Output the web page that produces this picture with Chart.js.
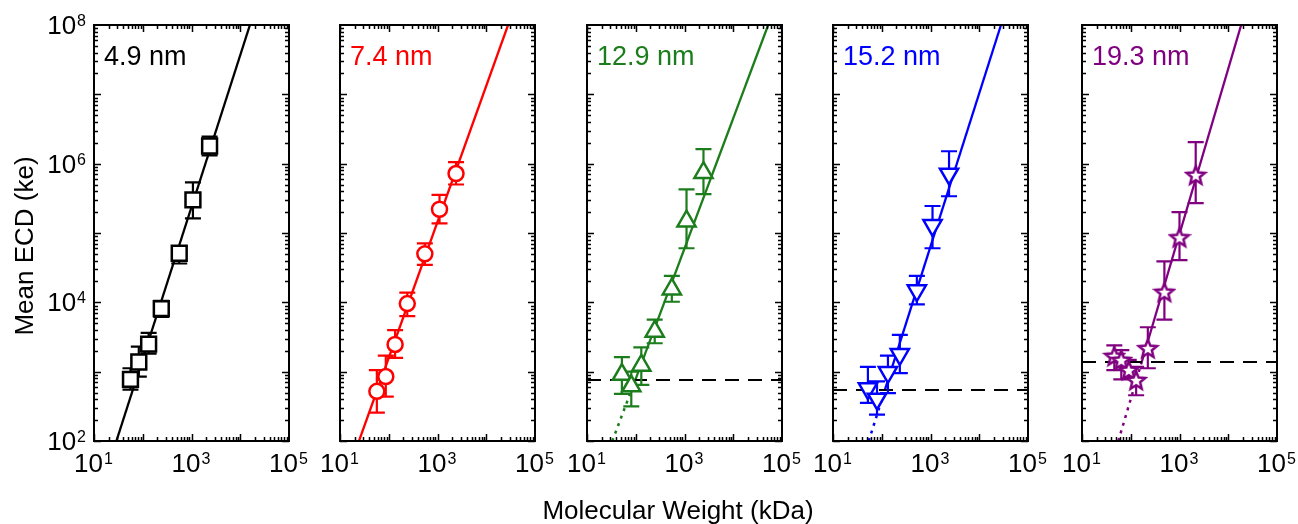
<!DOCTYPE html>
<html>
<head>
<meta charset="utf-8">
<script src="https://cdn.jsdelivr.net/npm/chart.js@4.4.0/dist/chart.umd.min.js"></script>
<style>
  html, body { margin: 0; padding: 0; background: #fff; }
  #wrap { position: relative; width: 1298px; height: 524px; overflow: hidden; }
  #wrap canvas { position: absolute; left: 0; top: 0; }
</style>
</head>
<body>
<div id="wrap"></div>
<script>
// ---- data (molecular weight in kDa, mean ECD in ke) ----
const sizes = ['4.9 nm', '7.4 nm', '12.9 nm', '15.2 nm', '19.3 nm'];
const colors = ['#000000', '#ff0000', '#1b7d1b', '#0000ff', '#800080'];

const mw1  = [56, 83, 132, 240, 560, 1070, 2350];
const ecd1 = [776, 1380, 2500, 8100, 51000, 300000, 1800000];
const lo1  = [550, 850, 1820, 6170, 36300, 162000, 1320000];
const hi1  = [1120, 2290, 3630, 10500, 64600, 537000, 2450000];

const mw2  = [57, 87, 135, 240, 550, 1100, 2400];
const ecd2 = [520, 850, 2470, 9600, 50000, 220000, 720000];
const lo2  = [257, 437, 1585, 6310, 34700, 138000, 501000];
const hi2  = [1050, 1700, 3980, 13800, 70800, 355000, 1050000];

const mw3  = [52, 81, 130, 245, 550, 1100, 2450];
const ecd3 = [910, 620, 1230, 3800, 15500, 148000, 740000];
const lo3  = [479, 316, 646, 2570, 10200, 60300, 363000];
const hi3  = [1620, 1000, 2240, 5620, 24000, 427000, 1620000];

const mw4  = [52, 80, 134, 235, 525, 1100, 2400];
const ecd4 = [570, 405, 980, 1780, 14800, 129000, 710000];
const lo4  = [355, 240, 490, 955, 9330, 60300, 339000];
const hi4  = [1175, 724, 1700, 3390, 24000, 245000, 1510000];

const mw5  = [46, 64, 91, 129, 224, 490, 1000, 2150];
const ecd5 = [1690, 1480, 1060, 760, 2190, 14200, 87000, 690000];
const lo5  = [1050, 776, 794, 457, 1120, 5620, 40700, 269000];
const hi5  = [2400, 2040, 1480, 1175, 4370, 38900, 200000, 2040000];

// power-law fit lines: [start, end] (dotted part below the noise floor, if any)
const fitX1 = [28.8, 15800];   const fitY1 = [100, 1e8];
const fitX2 = [24.5, 28000];   const fitY2 = [100, 1e8];
const fitX3 = [98, 52000];     const fitY3 = [760, 1e8];
const dotX3 = [33, 98];        const dotY3 = [100, 760];
const fitX4 = [116, 27900];    const fitY4 = [545, 1e8];
const dotX4 = [54, 116];       const dotY4 = [100, 545];
const fitX5 = [168, 18400];    const fitY5 = [1380, 1e8];
const dotX5 = [55.6, 168];     const dotY5 = [100, 1380];

// noise floor (dashed)
const floor3 = 760, floor4 = 545, floor5 = 1380;

const xRange = [10, 1e5];
const yRange = [1e2, 1e8];
const xTicks = [1e1, 1e3, 1e5];
const yTicks = [1e2, 1e4, 1e6, 1e8];
const xTitle = 'Molecular Weight (kDa)';
const yTitle = 'Mean ECD (ke)';

// ---- layout ----
const W = 1298, H = 524;
const plotLefts = [94, 340, 587, 833, 1082];
const plotW = 195, plotTop = 25, plotBottom = 441;
const FONT = "'Liberation Sans', Arial, sans-serif";

function pts(xs, ys) { return xs.map((x, i) => ({ x: x, y: ys[i] })); }

function starImage(color) {
  const c = document.createElement('canvas');
  c.width = 24; c.height = 24;
  const g = c.getContext('2d');
  g.beginPath();
  for (let i = 0; i < 10; i++) {
    const r = i % 2 === 0 ? 9.5 : 4.2;
    const a = -Math.PI / 2 + i * Math.PI / 5;
    const px = 12 + r * Math.cos(a), py = 13 + r * Math.sin(a);
    if (i === 0) g.moveTo(px, py); else g.lineTo(px, py);
  }
  g.closePath();
  g.fillStyle = '#fff';
  g.fill();
  g.lineWidth = 2.5;
  g.lineJoin = 'miter';
  g.strokeStyle = color;
  g.stroke();
  return c;
}

const panels = [
  { mw: mw1, ecd: ecd1, lo: lo1, hi: hi1, fit: [fitX1, fitY1], dot: null, floor: null, style: 'rect', radius: 10.5, rot: 0 },
  { mw: mw2, ecd: ecd2, lo: lo2, hi: hi2, fit: [fitX2, fitY2], dot: null, floor: null, style: 'circle', radius: 7.5, rot: 0 },
  { mw: mw3, ecd: ecd3, lo: lo3, hi: hi3, fit: [fitX3, fitY3], dot: [dotX3, dotY3], floor: floor3, style: 'triangle', radius: 10.5, rot: 0 },
  { mw: mw4, ecd: ecd4, lo: lo4, hi: hi4, fit: [fitX4, fitY4], dot: [dotX4, dotY4], floor: floor4, style: 'triangle', radius: 10.5, rot: 180 },
  { mw: mw5, ecd: ecd5, lo: lo5, hi: hi5, fit: [fitX5, fitY5], dot: [dotX5, dotY5], floor: floor5, style: 'star', radius: 12, rot: 0 }
];

function drawPow(ctx, value, x, baseline, align) {
  const exp = String(Math.round(Math.log10(value)));
  ctx.font = '26px ' + FONT;
  const wb = ctx.measureText('10').width;
  ctx.font = '16px ' + FONT;
  const we = ctx.measureText(exp).width;
  const total = wb + we;
  const start = align === 'center' ? x - total / 2 : x - total;
  ctx.textAlign = 'left';
  ctx.textBaseline = 'alphabetic';
  ctx.font = '26px ' + FONT;
  ctx.fillText('10', start, baseline);
  ctx.font = '16px ' + FONT;
  ctx.fillText(exp, start + wb + 1, baseline - 8);
}

function makePlugin(p, idx) {
  const color = colors[idx];
  return {
    id: 'panel' + idx,
    beforeDatasetDraw(chart, args) {
      if (args.index !== 0) return;
      const xs = chart.scales.x, ys = chart.scales.y, ctx = chart.ctx;
      ctx.save();
      ctx.strokeStyle = color;
      ctx.lineWidth = 2.2;
      ctx.beginPath();
      p.mw.forEach((m, i) => {
        const x = xs.getPixelForValue(m);
        const y1 = ys.getPixelForValue(p.lo[i]);
        const y2 = ys.getPixelForValue(p.hi[i]);
        ctx.moveTo(x, y1); ctx.lineTo(x, y2);
        ctx.moveTo(x - 8, y1); ctx.lineTo(x + 8, y1);
        ctx.moveTo(x - 8, y2); ctx.lineTo(x + 8, y2);
      });
      ctx.stroke();
      ctx.restore();
    },
    afterDraw(chart) {
      const a = chart.chartArea, xs = chart.scales.x, ys = chart.scales.y, ctx = chart.ctx;
      ctx.save();
      ctx.strokeStyle = '#000';
      ctx.lineWidth = 1.5;
      ctx.beginPath();
      // x ticks (inward, bottom and top)
      for (let e = 1; e < 5; e++) {
        for (let k = 1; k <= 9; k++) {
          const v = k * Math.pow(10, e);
          const px = Math.round(xs.getPixelForValue(v)) + 0.5;
          const len = k === 1 ? 7 : 4;
          ctx.moveTo(px, a.bottom); ctx.lineTo(px, a.bottom - len);
          ctx.moveTo(px, a.top); ctx.lineTo(px, a.top + len);
        }
      }
      // y ticks (inward, left and right)
      for (let e = 2; e < 8; e++) {
        for (let k = 1; k <= 9; k++) {
          const v = k * Math.pow(10, e);
          const py = Math.round(ys.getPixelForValue(v)) + 0.5;
          const len = k === 1 ? 7 : 4;
          ctx.moveTo(a.left, py); ctx.lineTo(a.left + len, py);
          ctx.moveTo(a.right, py); ctx.lineTo(a.right - len, py);
        }
      }
      ctx.stroke();
      // frame
      ctx.lineWidth = 2;
      ctx.strokeRect(a.left, a.top, a.right - a.left, a.bottom - a.top);

      ctx.fillStyle = '#000';
      xTicks.forEach(v => drawPow(ctx, v, xs.getPixelForValue(v) - 1, a.bottom + 31, 'center'));
      if (idx === 0) {
        yTicks.forEach(v => drawPow(ctx, v, a.left - 9, ys.getPixelForValue(v) + 9, 'right'));
        ctx.save();
        ctx.translate(33, (a.top + a.bottom) / 2 + 13);
        ctx.rotate(-Math.PI / 2);
        ctx.font = '26px ' + FONT;
        ctx.textAlign = 'center';
        ctx.textBaseline = 'alphabetic';
        ctx.fillText(yTitle, 0, 0);
        ctx.restore();
      }
      if (idx === 2) {
        ctx.font = '26px ' + FONT;
        ctx.textAlign = 'center';
        ctx.textBaseline = 'alphabetic';
        ctx.fillText(xTitle, 678, 519);
      }
      // panel label
      ctx.fillStyle = color;
      ctx.font = '27px ' + FONT;
      ctx.textAlign = 'left';
      ctx.textBaseline = 'alphabetic';
      ctx.fillText(sizes[idx], a.left + 10, 65);
      ctx.restore();
    }
  };
}

const wrap = document.getElementById('wrap');
panels.forEach((p, idx) => {
  const canvas = document.createElement('canvas');
  canvas.width = W; canvas.height = H;
  canvas.style.width = W + 'px'; canvas.style.height = H + 'px';
  wrap.appendChild(canvas);
  const color = colors[idx];
  const L = plotLefts[idx];

  const datasets = [
    {
      label: sizes[idx],
      data: pts(p.mw, p.ecd),
      showLine: false,
      pointStyle: p.style === 'star' ? starImage(color) : p.style,
      pointRotation: p.rot,
      pointRadius: p.radius,
      borderColor: color,
      backgroundColor: '#ffffff',
      pointBorderWidth: 2.5
    },
    {
      label: 'floor',
      data: p.floor ? pts(xRange, [p.floor, p.floor]) : [],
      showLine: true,
      borderColor: '#000',
      borderWidth: 2,
      borderDash: [14, 9],
      pointRadius: 0
    },
    {
      label: 'fit',
      data: pts(p.fit[0], p.fit[1]),
      showLine: true,
      borderColor: color,
      borderWidth: 2.3,
      pointRadius: 0
    },
    {
      label: 'fit below floor',
      data: p.dot ? pts(p.dot[0], p.dot[1]) : [],
      showLine: true,
      borderColor: color,
      borderWidth: 2.5,
      borderDash: [3, 5],
      pointRadius: 0
    }
  ];

  new Chart(canvas.getContext('2d'), {
    type: 'scatter',
    data: { datasets: datasets },
    options: {
      responsive: false,
      animation: false,
      events: [],
      layout: { padding: { left: L, right: W - L - plotW, top: plotTop, bottom: H - plotBottom } },
      plugins: { legend: { display: false }, tooltip: { enabled: false } },
      scales: {
        x: { type: 'logarithmic', min: xRange[0], max: xRange[1], display: false },
        y: { type: 'logarithmic', min: yRange[0], max: yRange[1], display: false }
      }
    },
    plugins: [makePlugin(p, idx)]
  });
});
</script>
</body>
</html>
